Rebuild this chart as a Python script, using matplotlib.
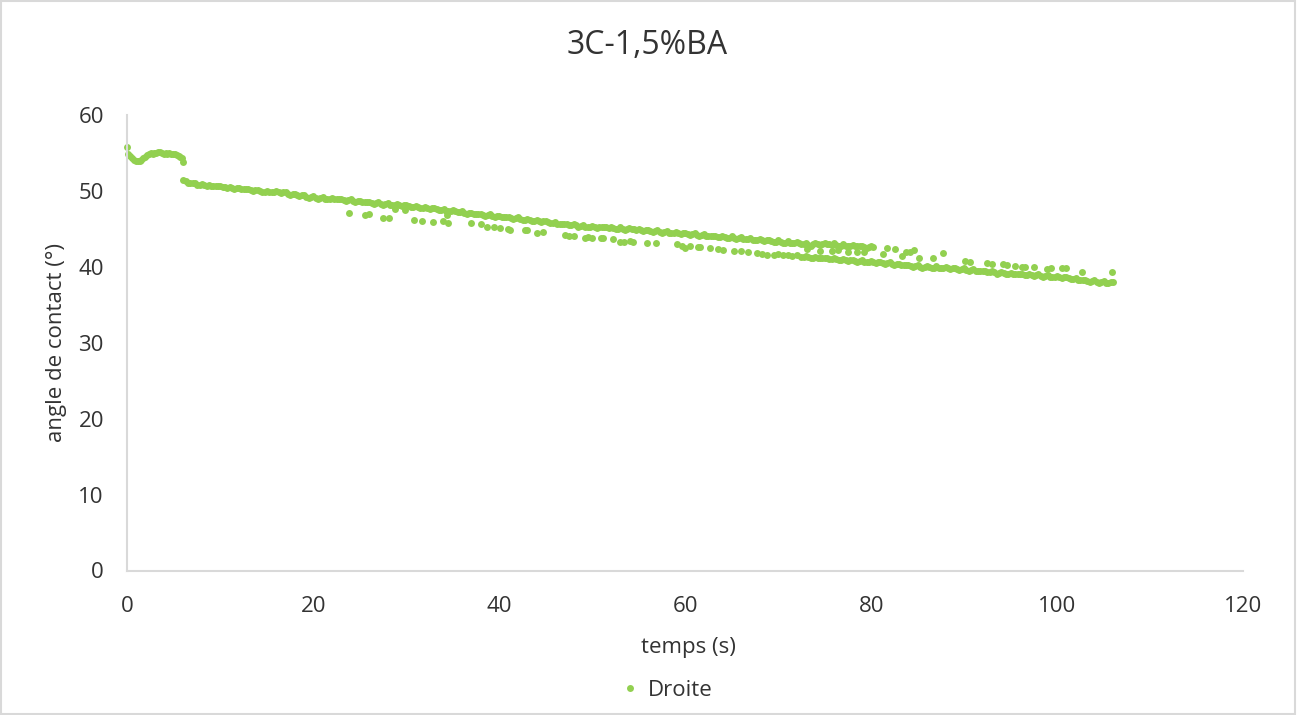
import matplotlib
matplotlib.use("Agg")
import matplotlib.pyplot as plt
from matplotlib.lines import Line2D
from matplotlib.patches import Rectangle

plt.rcParams['font.family'] = ['Open Sans', 'DejaVu Sans']

# ---- data ----
t_start = [0.0, 0.1, 0.3, 0.5, 0.7, 0.9, 1.1, 1.3, 1.5, 1.7, 1.9, 2.1, 2.3, 2.5, 2.7, 2.9,
           3.1, 3.3, 3.5, 3.7, 3.9, 4.1, 4.3, 4.5, 4.7, 4.9, 5.1, 5.3, 5.5, 5.7, 5.9, 6.0]
y_start = [55.8, 54.9, 54.6, 54.3, 54.1, 54.0, 53.9, 53.9, 54.1, 54.3, 54.5, 54.7, 54.9, 55.0, 54.9, 55.0,
           55.0, 55.1, 55.1, 55.0, 54.9, 55.0, 54.9, 55.0, 54.8, 54.9, 54.8, 54.7, 54.6, 54.5, 54.3, 53.8]

t_upper = [6.0, 6.5, 7.0, 7.5, 8.0, 8.5, 9.0, 9.5, 10.0, 10.5, 11.0, 11.5, 12.0, 12.5, 13.0, 13.5,
           14.0, 14.5, 15.0, 15.5, 16.0, 16.5, 17.0, 17.5, 18.0, 18.5, 19.0, 19.5, 20.0, 20.5, 21.0, 21.5,
           22.0, 22.5, 23.0, 23.5, 24.0, 24.5, 25.0, 25.5, 26.0, 26.5, 27.0, 27.5, 28.0, 28.5, 29.0, 29.5,
           30.0, 30.5, 31.0, 31.5, 32.0, 32.5, 33.0, 33.5, 34.0, 34.5, 35.0, 35.5, 36.0, 36.5, 37.0, 37.5,
           38.0, 38.5, 39.0, 39.5, 40.0, 40.5, 41.0, 41.5, 42.0, 42.5, 43.0, 43.5, 44.0, 44.5, 45.0, 45.5,
           46.0, 46.5, 47.0, 47.5, 48.0, 48.5, 49.0, 49.5, 50.0, 50.5, 51.0, 51.5, 52.0, 52.5, 53.0, 53.5,
           54.0, 54.5, 55.0, 55.5, 56.0, 56.5, 57.0, 57.5, 58.0, 58.5, 59.0, 59.5, 60.0, 60.5, 61.0, 61.5,
           62.0, 62.5, 63.0, 63.5, 64.0, 64.5, 65.0, 65.5, 66.0, 66.5, 67.0, 67.5, 68.0, 68.5, 69.0, 69.5,
           70.0, 70.5, 71.0, 71.5, 72.0, 72.5, 73.0, 73.5, 74.0, 74.5, 75.0, 75.5, 76.0, 76.5, 77.0, 77.5,
           78.0, 78.5, 79.0, 79.5, 80.0]
y_upper = [51.4, 51.1, 51.1, 50.8, 50.9, 50.7, 50.7, 50.6, 50.6, 50.5, 50.5, 50.3, 50.4, 50.2, 50.3, 50.0,
           50.1, 49.9, 50.0, 49.8, 50.0, 49.7, 49.8, 49.5, 49.6, 49.3, 49.4, 49.1, 49.3, 49.0, 49.2, 48.9,
           49.1, 48.9, 49.0, 48.7, 48.9, 48.6, 48.7, 48.5, 48.6, 48.3, 48.5, 48.2, 48.4, 48.1, 48.3, 48.0,
           48.2, 47.9, 48.0, 47.8, 47.9, 47.6, 47.7, 47.5, 47.6, 47.3, 47.5, 47.2, 47.3, 47.0, 47.1, 46.9,
           47.0, 46.7, 46.9, 46.6, 46.7, 46.5, 46.6, 46.3, 46.5, 46.2, 46.3, 46.1, 46.2, 45.9, 46.0, 45.8,
           45.9, 45.6, 45.7, 45.5, 45.6, 45.3, 45.5, 45.2, 45.4, 45.1, 45.3, 45.2, 45.2, 45.0, 45.2, 44.9,
           45.1, 45.0, 45.0, 44.7, 44.9, 44.6, 44.8, 44.5, 44.7, 44.4, 44.6, 44.3, 44.5, 44.2, 44.4, 44.1,
           44.3, 44.0, 44.1, 43.9, 44.0, 43.8, 44.0, 43.7, 43.9, 43.7, 43.8, 43.5, 43.7, 43.4, 43.6, 43.3,
           43.5, 43.2, 43.4, 43.1, 43.3, 43.0, 43.1, 42.8, 43.2, 42.9, 43.1, 43.0, 43.1, 42.8, 43.0, 42.7,
           42.9, 42.7, 42.8, 42.5, 42.7]

t_upper_b = [6.25, 6.75, 7.25, 7.75, 8.25, 8.75, 9.25, 9.75, 10.25, 10.75, 11.25, 11.75, 12.25, 12.75,
             13.25, 13.75, 14.25, 14.75, 15.25, 15.75, 16.25, 16.75, 17.25, 17.75, 18.25, 18.75, 19.25,
             19.75, 20.25, 20.75, 21.25, 21.75, 22.25, 22.75, 23.25, 23.75, 24.25, 24.75, 25.25, 25.75,
             26.25, 26.75, 27.25, 27.75, 28.25, 28.75, 29.25, 29.75, 30.25, 30.75, 31.25, 31.75, 32.25,
             32.75, 33.25, 33.75, 34.25, 34.75, 35.25, 35.75, 36.25, 36.75, 37.25, 37.75, 38.25, 38.75,
             39.25, 39.75, 40.25, 40.75, 41.25, 41.75, 42.25, 42.75, 43.25, 43.75, 44.25, 44.75, 45.25,
             45.75, 46.25, 46.75, 47.25, 47.75, 48.25, 48.75, 49.25, 49.75, 50.25, 50.75, 51.25, 51.75,
             52.25, 52.75, 53.25, 53.75, 54.25, 54.75, 55.25, 55.75, 56.25, 56.75, 57.25, 57.75, 58.25,
             58.75, 59.25, 59.75, 60.25, 60.75, 61.25, 61.75, 62.25, 62.75, 63.25, 63.75, 64.25, 64.75,
             65.25, 65.75, 66.25, 66.75, 67.25, 67.75, 68.25, 68.75, 69.25, 69.75, 70.25, 70.75, 71.25,
             71.75, 72.25, 72.75, 73.25, 73.75, 74.25, 74.75, 75.25, 75.75, 76.25, 76.75, 77.25, 77.75,
             78.25, 78.75, 79.25, 79.75]
y_upper_b = [51.3, 51.0, 51.0, 50.8, 50.8, 50.8, 50.6, 50.6, 50.5, 50.4, 50.4, 50.4, 50.3, 50.3,
             50.1, 50.1, 50.0, 49.9, 49.9, 49.9, 49.8, 49.8, 49.6, 49.6, 49.4, 49.4, 49.2,
             49.2, 49.1, 49.1, 49.0, 49.0, 49.0, 48.9, 48.8, 48.8, 48.7, 48.7, 48.6, 48.5,
             48.4, 48.4, 48.3, 48.3, 48.2, 48.2, 48.1, 48.1, 48.0, 47.9, 47.9, 47.8, 47.7,
             47.7, 47.6, 47.5, 47.4, 47.4, 47.3, 47.2, 47.1, 47.1, 47.0, 46.9, 46.8, 46.8,
             46.7, 46.7, 46.6, 46.5, 46.4, 46.4, 46.3, 46.2, 46.2, 46.1, 46.0, 46.0, 45.9,
             45.8, 45.7, 45.7, 45.6, 45.5, 45.5, 45.4, 45.3, 45.3, 45.2, 45.2, 45.2, 45.1,
             45.1, 45.0, 45.0, 45.0, 45.0, 44.9, 44.8, 44.8, 44.7, 44.7, 44.6, 44.6, 44.5,
             44.5, 44.4, 44.4, 44.3, 44.3, 44.2, 44.2, 44.1, 44.0, 44.0, 43.9, 43.9, 43.8,
             43.8, 43.8, 43.7, 43.7, 43.6, 43.6, 43.5, 43.5, 43.4, 43.3, 43.3, 43.2, 43.2,
             43.1, 43.1, 43.0, 42.9, 43.0, 43.0, 43.0, 43.0, 42.9, 42.9, 42.8, 42.8, 42.8,
             42.7, 42.7, 42.6, 42.6]

t_lower = [59.7, 60.5, 61.6, 62.7, 63.5, 64.1, 65.2, 66.0, 66.7, 67.7, 68.3, 68.8, 69.5, 70.0, 70.5, 71.0,
           71.5, 72.0, 72.4, 73.0, 73.5, 74.0, 74.5, 75.0, 75.5, 76.0, 76.5, 77.0, 77.5, 78.0, 78.5, 79.0,
           79.5, 80.0, 80.5, 81.0, 81.5, 82.0, 82.5, 83.0, 83.5, 84.0, 84.5, 85.0, 85.5, 86.0, 86.5, 87.0,
           87.5, 88.0, 88.5, 89.0, 89.5, 90.0, 90.5, 91.0, 91.5, 92.0, 92.5, 93.0, 93.5, 94.0, 94.5, 95.0,
           95.5, 96.0, 96.5, 97.0, 97.5, 98.0, 98.5, 99.0, 99.5, 100.0, 100.5, 101.0, 101.5, 102.0, 102.5,
           103.0, 103.5, 104.0, 104.5, 105.0, 105.5, 106.0]
y_lower = [42.8, 42.7, 42.6, 42.5, 42.3, 42.2, 42.1, 42.1, 42.0, 41.8, 41.7, 41.6, 41.6, 41.7, 41.5, 41.6,
           41.4, 41.5, 41.3, 41.4, 41.2, 41.3, 41.1, 41.2, 41.0, 41.1, 40.9, 41.0, 40.8, 40.9, 40.7, 40.9,
           40.6, 40.8, 40.5, 40.7, 40.4, 40.6, 40.3, 40.4, 40.2, 40.3, 40.0, 40.2, 39.9, 40.1, 39.9, 40.1,
           39.8, 40.0, 39.7, 39.9, 39.6, 39.8, 39.5, 39.7, 39.4, 39.5, 39.3, 39.4, 39.1, 39.3, 39.1, 39.2,
           39.0, 39.1, 38.9, 39.0, 38.8, 39.0, 38.7, 38.9, 38.6, 38.8, 38.5, 38.7, 38.4, 38.5, 38.2,
           38.3, 38.0, 38.2, 37.9, 38.1, 37.9, 38.0]

t_lower_b = [72.75, 73.25, 73.75, 74.25, 74.75, 75.25, 75.75, 76.25, 76.75, 77.25, 77.75, 78.25, 78.75,
             79.25, 79.75, 80.25, 80.75, 81.25, 81.75, 82.25, 82.75, 83.25, 83.75, 84.25, 84.75, 85.25,
             85.75, 86.25, 86.75, 87.25, 87.75, 88.25, 88.75, 89.25, 89.75, 90.25, 90.75, 91.25, 91.75,
             92.25, 92.75, 93.25, 93.75, 94.25, 94.75, 95.25, 95.75, 96.25, 96.75, 97.25, 97.75, 98.25,
             98.75, 99.25, 99.75, 100.25, 100.75, 101.25, 101.75, 102.25, 102.75, 103.25, 103.75, 104.25,
             104.75, 105.25, 105.75]
y_lower_b = [41.3, 41.3, 41.2, 41.2, 41.1, 41.1, 41.0, 41.0, 40.9, 40.9, 40.9, 40.8, 40.8,
             40.7, 40.7, 40.6, 40.6, 40.5, 40.5, 40.4, 40.4, 40.3, 40.2, 40.1, 40.1, 40.0,
             40.0, 40.0, 39.9, 39.9, 39.9, 39.8, 39.8, 39.7, 39.7, 39.6, 39.6, 39.5, 39.4,
             39.4, 39.3, 39.3, 39.2, 39.2, 39.1, 39.1, 39.0, 39.0, 38.9, 38.9, 38.9, 38.8,
             38.8, 38.7, 38.7, 38.6, 38.6, 38.5, 38.4, 38.3, 38.2, 38.1, 38.1, 38.0,
             38.0, 37.9, 38.0]

t_scatter = [23.8, 25.6, 26.0, 27.5, 28.1, 28.8, 29.8, 30.8, 31.7, 32.9, 33.9, 34.4, 34.5, 36.9, 38.0,
             38.7, 39.4, 40.1, 40.9, 41.2, 42.8, 43.0, 44.1, 44.7, 47.1, 47.5, 48.0, 49.2, 49.5, 50.0,
             50.9, 51.2, 52.2, 53.0, 53.4, 54.1, 54.4, 55.9, 56.8, 59.1, 60.0, 61.4,
             73.1, 74.5, 75.8, 76.4, 77.5, 78.5, 79.2, 80.2, 81.3, 81.7, 82.6, 83.3, 83.7, 84.2, 84.6,
             85.1, 86.7, 87.7, 90.1, 90.6, 92.5, 93.0, 94.2, 94.6, 95.5, 96.2, 96.6, 97.5, 98.9, 99.3,
             100.5, 101.0, 102.7, 105.9]
y_scatter = [47.1, 46.8, 46.9, 46.4, 46.4, 47.6, 47.5, 46.2, 46.1, 45.9, 46.1, 46.8, 45.8, 45.8, 45.7,
             45.3, 45.3, 45.1, 45.0, 44.9, 44.8, 44.9, 44.5, 44.6, 44.2, 44.1, 44.0, 43.8, 43.9, 43.8,
             43.8, 43.8, 43.7, 43.3, 43.3, 43.4, 43.3, 43.2, 43.2, 43.0, 42.5, 42.6,
             42.4, 42.1, 42.1, 42.2, 42.0, 42.0, 41.9, 42.6, 41.7, 42.5, 42.4, 41.4, 42.0, 42.0, 42.2,
             41.2, 41.2, 41.8, 40.8, 40.7, 40.5, 40.4, 40.4, 40.3, 40.1, 40.0, 40.0, 40.0, 39.7, 39.8,
             39.9, 39.8, 39.3, 39.3]

series_name = "Droite"
title = "3C-1,5%BA"
xlabel = "temps (s)"
ylabel = "angle de contact (°)"
x_ticks = [0, 20, 40, 60, 80, 100, 120]
y_ticks = [0, 10, 20, 30, 40, 50, 60]

# ---- plot ----
green = "#92D050"
txt = "#333333"
axis_col = "#D9D9D9"

fig = plt.figure(figsize=(12.98, 7.15), dpi=100)
ax = fig.add_axes([127.5 / 1298, 1 - 570.5 / 715, (1243 - 127.5) / 1298, (570.5 - 115) / 715])

ms = 5.0
for tt, yy in [(t_start, y_start), (t_upper, y_upper), (t_upper_b, y_upper_b),
               (t_lower, y_lower), (t_lower_b, y_lower_b), (t_scatter, y_scatter)]:
    ax.plot(tt, yy, linestyle="none", marker="o", markersize=ms, color=green,
            markeredgewidth=0, clip_on=False)

ax.set_xlim(0, 120)
ax.set_ylim(0, 60)
ax.set_xticks(x_ticks)
ax.set_yticks(y_ticks)
ax.tick_params(length=0, labelsize=16, colors=txt)
ax.tick_params(axis="y", pad=17)
ax.tick_params(axis="x", pad=18)
for s in ["top", "right"]:
    ax.spines[s].set_visible(False)
for s in ["left", "bottom"]:
    ax.spines[s].set_color(axis_col)
    ax.spines[s].set_linewidth(1.5)

ax.set_xlabel(xlabel, fontsize=16, color=txt)
ax.set_ylabel(ylabel, fontsize=16, color=txt)
ax.xaxis.set_label_coords((688 - 127.5) / 1115.5, (570.5 - 637) / 455.5)
ax.yaxis.set_label_coords((67 - 127.5) / 1115.5, (570.5 - 343) / 455.5)
fig.text(647 / 1298, 1 - 46 / 715, title, fontsize=23, color=txt, ha="center", va="center")

handle = Line2D([], [], linestyle="none", marker="o", markersize=ms, color=green, markeredgewidth=0)
fig.legend([handle], [series_name], loc="center", bbox_to_anchor=(665 / 1298, 1 - 690 / 715),
           frameon=False, fontsize=16, handletextpad=0.2, handlelength=1.2, labelcolor=txt)

fig.patches.append(Rectangle((0.001, 0.001), 0.997, 0.997, transform=fig.transFigure,
                             fill=False, edgecolor=axis_col, linewidth=1.5))

fig.savefig("out.png", dpi=100)
